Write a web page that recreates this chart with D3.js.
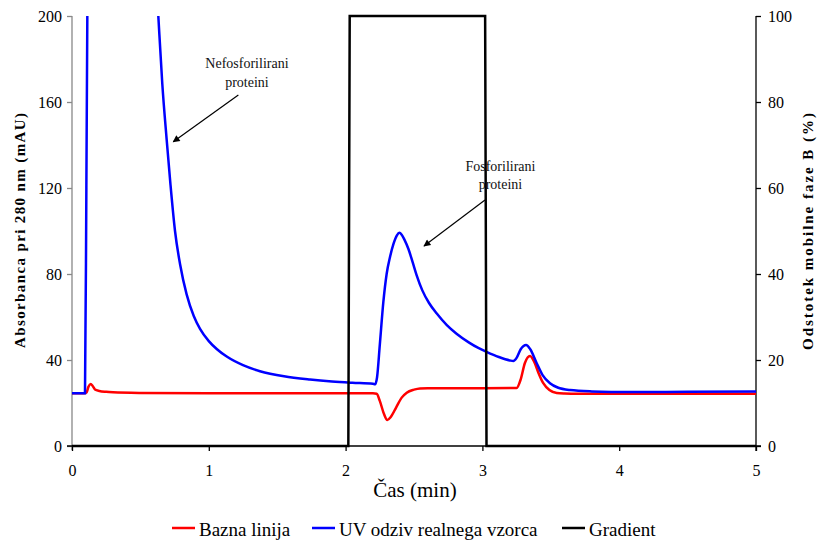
<!DOCTYPE html>
<html>
<head>
<meta charset="utf-8">
<script src="https://cdn.jsdelivr.net/npm/d3@7"></script>
<style>
  body { margin: 0; background: #fff; }
  svg { display: block; }
</style>
</head>
<body>
<svg id="chart" width="819" height="540"></svg>
<script>
// ---- Data ----
// Baseline (Bazna linija) – time (min) / absorbance (mAU)
const baseTime = [0, 0.09, 0.107, 0.12, 0.137, 0.15, 0.168, 0.2, 0.25, 0.3, 0.5, 1.0, 1.5, 2.0, 2.2, 2.227, 2.25, 2.28, 2.305, 2.33, 2.37, 2.41, 2.447, 2.5, 2.544, 2.6, 3.0, 3.25, 3.28, 3.31, 3.348, 3.38, 3.41, 3.445, 3.49, 3.543, 3.6, 3.7, 4.0, 4.5, 5.0];
const baseValue = [24.5, 24.5, 25.0, 27.5, 28.8, 28.0, 26.3, 25.6, 25.2, 25.0, 24.7, 24.5, 24.5, 24.5, 24.5, 24.3, 21.0, 15.0, 12.1, 13.5, 18.0, 22.5, 24.8, 26.2, 26.8, 26.9, 26.9, 27.0, 31.0, 38.5, 41.9, 39.0, 34.0, 29.2, 26.0, 24.6, 24.4, 24.3, 24.3, 24.3, 24.3];

// UV response of real sample (UV odziv realnega vzorca)
const uvTime = [0, 0.095, 0.105, 0.112, 0.12, 0.2, 0.4, 0.55, 0.6, 0.631, 0.66, 0.692, 0.72, 0.753, 0.79, 0.838, 0.89, 0.936, 1.0, 1.06, 1.131, 1.25, 1.374, 1.55, 1.74, 1.9, 2.05, 2.2, 2.215, 2.23, 2.25, 2.276, 2.3, 2.325, 2.35, 2.375, 2.393, 2.41, 2.43, 2.46, 2.49, 2.519, 2.56, 2.61, 2.665, 2.74, 2.811, 2.9, 2.97, 3.03, 3.12, 3.2, 3.226, 3.25, 3.28, 3.319, 3.35, 3.397, 3.44, 3.494, 3.55, 3.64, 3.8, 4.08, 4.5, 5.0];
const uvValue = [24.5, 24.5, 120, 200, 300, 600, 500, 300, 235, 200, 168.5, 142.5, 121.5, 100, 84.5, 70.5, 60.5, 54.5, 48.8, 45.0, 41.6, 37.6, 34.8, 32.4, 30.9, 30.0, 29.4, 28.9, 28.7, 32, 47, 67, 80, 88, 94, 98, 99.2, 98.3, 96, 91.5, 85.5, 79.5, 72.5, 66.5, 61.7, 56.2, 52.2, 48.2, 45.6, 43.8, 41.4, 39.8, 39.5, 41, 45, 47, 45, 38.5, 33, 29.2, 27.2, 26.0, 25.4, 25.1, 25.2, 25.3];

// Gradient – time (min) / percent of mobile phase B
const gradTime = [0, 2.02, 2.03, 3.02, 3.03, 5.0];
const gradValue = [0, 0, 100, 100, 0, 0];

// Axis ticks
const xTicks = [0, 1, 2, 3, 4, 5];
const yTicks = [0, 40, 80, 120, 160, 200];
const y2Ticks = [0, 20, 40, 60, 80, 100];

// Legend labels
const legendLabels = ["Bazna linija", "UV odziv realnega vzorca", "Gradient"];
const seriesColors = ["#ff0000", "#0000ff", "#000000"];

// Annotations (data coordinates)
const annoLines = [["Nefosforilirani", "proteini"], ["Fosforilirani", "proteini"]];
const annoTextX = [1.279, 3.132];
const annoTextY = [175.7, 128.0];
const arrowFrom = [[1.216, 163.3], [3.019, 114.4]];
const arrowTo = [[0.740, 141.5], [2.573, 93.0]];

// ---- Layout ----
const FONT = "'Liberation Serif', 'Times New Roman', Tinos, serif";
const svg = d3.select("#chart").style("font-family", FONT);
const mLeft = 72, mRight = 756, mTop = 16, mBottom = 446;

const x = d3.scaleLinear().domain([0, 5]).range([mLeft, mRight]);
const y = d3.scaleLinear().domain([0, 200]).range([mBottom, mTop]);
const y2 = d3.scaleLinear().domain([0, 100]).range([mBottom, mTop]);

const defs = svg.append("defs");
defs.append("clipPath").attr("id", "plotclip")
  .append("rect").attr("x", mLeft - 2).attr("y", mTop).attr("width", mRight - mLeft + 4).attr("height", mBottom - mTop + 2);

defs.append("marker")
  .attr("id", "arrow").attr("viewBox", "0 0 10 10").attr("refX", 9).attr("refY", 5)
  .attr("markerWidth", 9).attr("markerHeight", 7).attr("markerUnits", "userSpaceOnUse")
  .attr("orient", "auto")
  .append("path").attr("d", "M0,0 L10,5 L0,10 z").attr("fill", "#000");

function styleText(sel, size) {
  sel.style("font-family", FONT).attr("font-size", size).attr("fill", "#000");
}

// Axes
const fontAxis = 16;
const gLeft = svg.append("g").attr("transform", `translate(${mLeft},0)`)
  .call(d3.axisLeft(y).tickValues(yTicks).tickSize(5).tickSizeOuter(0).tickPadding(5));
gLeft.attr("font-family", null);
gLeft.select(".domain").attr("stroke", "#888").attr("stroke-width", 1.3).attr("d", `M0,${mTop}V${mBottom + 4}`);
gLeft.selectAll(".tick line").attr("stroke", "#888").attr("stroke-width", 1.3);
styleText(gLeft.selectAll("text"), fontAxis);

const gRight = svg.append("g").attr("transform", `translate(${mRight},0)`)
  .call(d3.axisRight(y2).tickValues(y2Ticks).tickSize(5).tickSizeOuter(0).tickPadding(7));
gRight.attr("font-family", null);
gRight.select(".domain").attr("stroke", "#000").attr("stroke-width", 1.3).attr("d", `M0,${mTop}V${mBottom + 5}`);
gRight.selectAll(".tick line").attr("stroke", "#000").attr("stroke-width", 1.3);
styleText(gRight.selectAll("text"), fontAxis);

const gBottom = svg.append("g").attr("transform", `translate(0,${mBottom})`)
  .call(d3.axisBottom(x).tickValues(xTicks).tickFormat(d3.format("d")).tickSize(5).tickSizeOuter(0).tickPadding(14));
gBottom.attr("font-family", null);
gBottom.select(".domain").attr("stroke", "#000").attr("stroke-width", 1.3).attr("d", `M${mLeft - 5},0H${mRight + 5}`);
gBottom.selectAll(".tick line").attr("stroke", "#000").attr("stroke-width", 1.3);
styleText(gBottom.selectAll("text"), fontAxis);

// Axis titles
styleText(svg.append("text")
  .attr("transform", `translate(25,${(113 + 348) / 2}) rotate(-90)`)
  .attr("text-anchor", "middle").attr("font-weight", "bold")
  .attr("textLength", 235).attr("lengthAdjust", "spacing")
  .text("Absorbanca pri 280 nm (mAU)"), 15);

styleText(svg.append("text")
  .attr("transform", `translate(813,${(113 + 350) / 2}) rotate(-90)`)
  .attr("text-anchor", "middle").attr("font-weight", "bold")
  .attr("textLength", 237).attr("lengthAdjust", "spacing")
  .text("Odstotek mobilne faze B (%)"), 15);

styleText(svg.append("text")
  .attr("x", 415).attr("y", 497)
  .attr("text-anchor", "middle")
  .text("Čas (min)"), 21);

// Lines
const plot = svg.append("g").attr("clip-path", "url(#plotclip)");
const lineMain = d3.line().x(d => x(d[0])).y(d => y(d[1])).curve(d3.curveMonotoneX);
const lineGrad = d3.line().x(d => x(d[0])).y(d => y2(d[1]));

plot.append("path").datum(d3.zip(baseTime, baseValue))
  .attr("d", lineMain).attr("fill", "none").attr("stroke", seriesColors[0]).attr("stroke-width", 2.5);
plot.append("path").datum(d3.zip(uvTime, uvValue))
  .attr("d", lineMain).attr("fill", "none").attr("stroke", seriesColors[1]).attr("stroke-width", 2.5);
svg.append("path").datum(d3.zip(gradTime, gradValue))
  .attr("d", lineGrad).attr("fill", "none").attr("stroke", seriesColors[2]).attr("stroke-width", 2.5)
  .attr("stroke-linejoin", "miter");

// Annotations
annoLines.forEach((lines, i) => {
  const t = svg.append("text").attr("text-anchor", "middle");
  styleText(t, 14);
  t.attr("fill", "#111");
  lines.forEach((ln, j) => {
    t.append("tspan").attr("x", x(annoTextX[i])).attr("y", y(annoTextY[i]) + j * 18.6).text(ln);
  });
  svg.append("line")
    .attr("x1", x(arrowFrom[i][0])).attr("y1", y(arrowFrom[i][1]))
    .attr("x2", x(arrowTo[i][0])).attr("y2", y(arrowTo[i][1]))
    .attr("stroke", "#000").attr("stroke-width", 1.2).attr("marker-end", "url(#arrow)");
});

// Legend
const legendX = [172, 312, 562];
const legendY = 528;
legendLabels.forEach((lab, i) => {
  svg.append("line").attr("x1", legendX[i]).attr("x2", legendX[i] + 23)
    .attr("y1", legendY).attr("y2", legendY)
    .attr("stroke", seriesColors[i]).attr("stroke-width", 2.5);
  styleText(svg.append("text").attr("x", legendX[i] + 27).attr("y", legendY + 8).text(lab), 19);
});
</script>
</body>
</html>
